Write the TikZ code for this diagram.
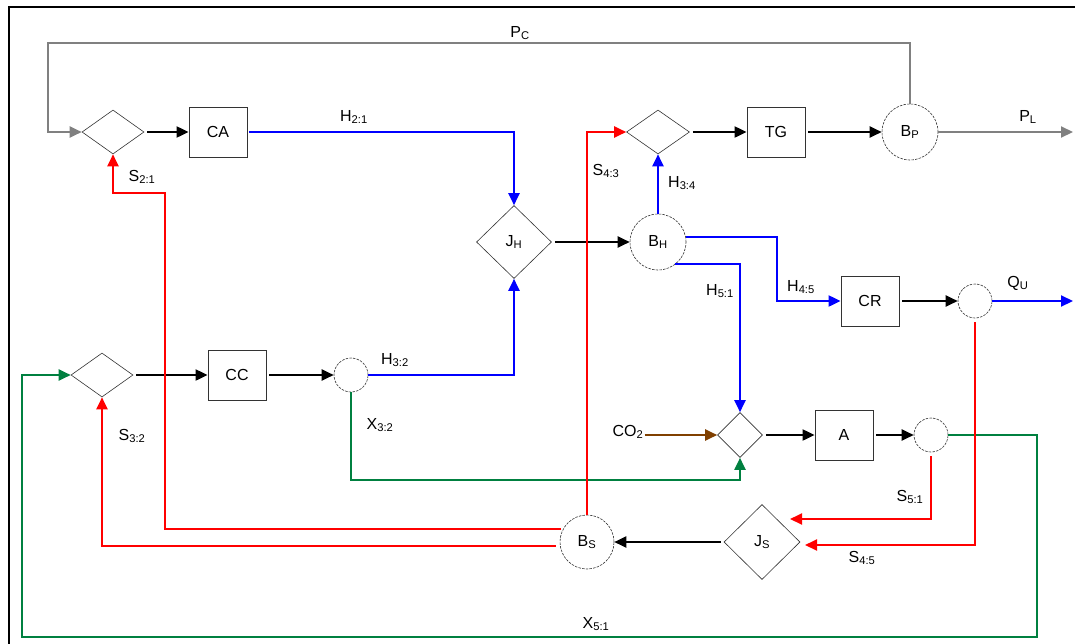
\documentclass[tikz,border=0pt]{standalone}
\usepackage{fontspec}
\setmainfont{Liberation Sans}
\usetikzlibrary{shapes.geometric,arrows.meta}
\definecolor{cblue}{RGB}{0,0,255}
\definecolor{cred}{RGB}{255,0,0}
\definecolor{cgreen}{RGB}{0,128,64}
\definecolor{cgray}{RGB}{128,128,128}
\definecolor{cbrown}{RGB}{128,64,0}
\begin{document}
\begin{tikzpicture}[x=1pt,y=-1pt,
  font=\fontsize{16}{18}\selectfont,
  box/.style={draw=black!80,line width=0.8pt,minimum width=58pt,minimum height=50pt,inner sep=0pt},
  dia/.style={diamond,draw=black!80,line width=0.6pt,inner sep=0pt},
  circ/.style={circle,draw=black!80,line width=0.6pt,dash pattern=on 2.5pt off 1.2pt,inner sep=0pt},
  lab/.style={inner sep=1pt},
  flow/.style={line width=2pt,-{Triangle[length=12pt,width=11pt]}},
  plain/.style={line width=2pt},
  blk/.style={flow,black,shorten <=3pt},
  blu/.style={flow,cblue},
  rd/.style={flow,cred},
  grn/.style={flow,cgreen},
  gry/.style={flow,cgray}]
\useasboundingbox (0,0) rectangle (1075,643);
% frame
\draw[line width=2.5pt] (9,650) -- (9,7) -- (1080,7);
% nodes
\node[dia,minimum width=62pt,minimum height=44pt] (d1) at (113,132) {};
\node[box] (ca) at (218,132) {CA};
\node[dia,minimum width=75pt,minimum height=73pt] (jh) at (514,242) {J\textsubscript{H}};
\node[circ,minimum size=56pt] (bh) at (658,242) {B\textsubscript{H}};
\node[dia,minimum width=63pt,minimum height=44pt] (d4) at (658,132) {};
\node[box] (tg) at (776,132) {TG};
\node[circ,minimum size=56pt] (bp) at (910,132) {B\textsubscript{P}};
\node[box] (cr) at (870,301) {CR};
\node[circ,minimum size=34pt] (cq) at (975,301) {};
\node[dia,minimum width=62pt,minimum height=44pt] (d3) at (102,375) {};
\node[box] (cc) at (237,375) {CC};
\node[circ,minimum size=34pt] (cc2) at (351,375) {};
\node[dia,minimum width=45pt,minimum height=45pt] (d5) at (740,435) {};
\node[box] (a) at (844,435) {A};
\node[circ,minimum size=34pt] (ca2) at (931,435) {};
\node[dia,minimum width=76pt,minimum height=75pt] (js) at (762,542) {J\textsubscript{S}};
\node[circ,minimum size=54pt] (bs) at (587,542) {B\textsubscript{S}};
% labels
\node[lab] (lpc) at (520,33) {P\textsubscript{C}};
\node[lab] (lh21) at (354,117) {H\textsubscript{2:1}};
\node[lab] (ls21) at (142,177) {S\textsubscript{2:1}};
\node[lab] (ls43) at (606,171) {S\textsubscript{4:3}};
\node[lab] (lh34) at (682,183) {H\textsubscript{3:4}};
\node[lab] (lpl) at (1028,117) {P\textsubscript{L}};
\node[lab] (lh51) at (720,291) {H\textsubscript{5:1}};
\node[lab] (lh45) at (801,287) {H\textsubscript{4:5}};
\node[lab] (lqu) at (1018,283) {Q\textsubscript{U}};
\node[lab] (lh32) at (395,360) {H\textsubscript{3:2}};
\node[lab] (ls32) at (132,436) {S\textsubscript{3:2}};
\node[lab] (lx32) at (380,425) {X\textsubscript{3:2}};
\node[lab] (co2) at (628,432) {CO\textsubscript{2}};
\node[lab] (ls51) at (910,497) {S\textsubscript{5:1}};
\node[lab] (ls45) at (862,558) {S\textsubscript{4:5}};
\node[lab] (lx51) at (596,624) {X\textsubscript{5:1}};
% coordinates
\coordinate (gtl) at (48,43);
\coordinate (pl) at (1073,132);
\coordinate (qu) at (1073,301);
\coordinate (k45) at (777,301);
\coordinate (r21) at (165,193);
\coordinate (g1) at (1037,637);
\coordinate (g2) at (22,637);
\coordinate (s51) at (790,519);
\coordinate (s45) at (805,545);
% gray
\draw[gry] (bp.north) |- (gtl) |- (d1.west);
\draw[gry] (bp.east) -- (pl);
% black
\draw[blk] (d1.east) -- (ca.west);
\draw[blk] (jh.east) -- (bh.west);
\draw[blk] (d4.east) -- (tg.west);
\draw[blk] (tg.east) -- (bp.west);
\draw[blk] (cr.east) -- (cq.west);
\draw[blk] (d3.east) -- (cc.west);
\draw[blk] (cc.east) -- (cc2.west);
\draw[blk] (d5.east) -- (a.west);
\draw[blk] (a.east) -- (ca2.west);
\draw[blk] (js.west) -- (bs.east);
% blue
\draw[blu,shorten <=2pt] (ca.east) -| (jh.north);
\draw[blu] (cc2.east) -| (jh.south);
\draw[blu] (bh.north) -- (d4.south);
\draw[blu] (bh.10) -| (k45) -- (cr.west);
\draw[blu] (bh.-52) -| (d5.north);
\draw[blu] (cq.east) -- (qu);
% brown
\draw[flow,cbrown] (co2.east |- d5.west) -- (d5.west);
% green
\draw[grn] (cc2.south) -- ++(0,88) -| (d5.south);
\draw[grn] (ca2.east) -| (g1) -- (g2) |- (d3.west);
% red
\draw[rd] (bs.north) |- (d4.west);
\draw[rd,shorten <=2pt] (bs.151) -| (r21) -| (d1.south);
\draw[rd,shorten <=4pt] (bs.188) -| (d3.south);
\draw[rd,shorten <=4pt] (ca2.south) |- (s51);
\draw[rd,shorten <=4pt] (cq.south) |- (s45);
\end{tikzpicture}
\end{document}
